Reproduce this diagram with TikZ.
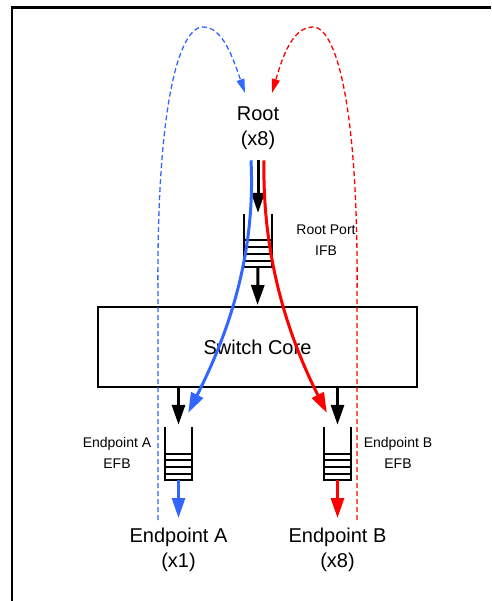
\documentclass[tikz,border=0pt]{standalone}
\usepackage{fontspec}
\setmainfont{Liberation Sans}
\usetikzlibrary{arrows.meta,calc}
\definecolor{pathblue}{RGB}{51,102,255}
\definecolor{pathred}{RGB}{255,0,0}

\begin{document}
\begin{tikzpicture}[x=1pt,y=-1pt,
		bigtxt/.style={inner sep=0pt,align=center,font=\fontsize{20}{25}\selectfont},
		smalltxt/.style={inner sep=0pt,align=center,font=\fontsize{14}{21}\selectfont},
		fifo/.style={minimum width=27pt,minimum height=53pt,inner sep=0pt},
		fwd/.style={line width=3pt,-{Triangle[length=20pt,width=13pt]}},
		loopback/.style={line width=1.3pt,dash pattern=on 5pt off 3pt,-{Triangle[length=14pt,width=8pt]}}]
	\useasboundingbox (0,0) rectangle (491,601);
	% frame (only top and left edge visible)
	\draw[line width=2.2pt] (12,601) -- (12,7.5) -- (491,7.5);
	% nodes
	\node[bigtxt,anchor=north] (root) at (258,107) {Root\\(x8)};
	\node[fifo] (rpq) at (258,240.5) {};
	\node[smalltxt] (rplbl) at (326,240) {Root Port\\IFB};
	\node[draw,line width=2pt,minimum width=319pt,minimum height=80pt,inner sep=0pt,
		font=\fontsize{20}{25}\selectfont] (core) at (257.5,347) {Switch Core};
	\node[fifo] (eaq) at (178.5,453.5) {};
	\node[fifo] (ebq) at (337.5,453.5) {};
	\node[smalltxt] (ealbl) at (117,452.5) {Endpoint A\\EFB};
	\node[smalltxt] (eblbl) at (398,452.5) {Endpoint B\\EFB};
	\node[bigtxt,anchor=north] (epa) at (178.5,528) {Endpoint A\\(x1)};
	\node[bigtxt,anchor=north] (epb) at (337.5,528) {Endpoint B\\(x8)};
	% queues
	\foreach \q in {rpq,eaq,ebq}{
		\draw[line width=2pt] (\q.north west) -- (\q.south west) -- (\q.south east) -- (\q.north east);
		\foreach \f in {0.5,0.625,0.75,0.875}
			\draw[line width=2pt] ($(\q.north west)!\f!(\q.south west)$) -- ($(\q.north east)!\f!(\q.south east)$);
	}
	% black data path
	\draw[fwd,shorten <=10pt,shorten >=1pt] (root.south) -- (rpq.north);
	\draw[fwd,shorten >=1pt] (rpq.south) -- (core.north);
	\draw[fwd,shorten >=2pt] (core.south -| eaq.north) -- (eaq.north);
	\draw[fwd,shorten >=2pt] (core.south -| ebq.north) -- (ebq.north);
	% flows to the endpoints
	\draw[fwd,pathblue] ($(root.south)+(-7,10)$) .. controls (256,260) and (225,340) .. ($(eaq.north east)+(-4,-14)$);
	\draw[fwd,pathred] ($(root.south)+(6,10)$) .. controls (262,260) and (290,340) .. ($(ebq.north west)+(3,-14)$);
	\draw[fwd,pathblue,shorten >=10pt] (eaq.south) -- (epa.north);
	\draw[fwd,pathred,shorten >=10pt] (ebq.south) -- (epb.north);
	% returns to the root
	\coordinate (aret) at (158,520);
	\coordinate (bret) at (357,520);
	\coordinate (aroot) at (245,93);
	\coordinate (broot) at (272,93);
	\draw[loopback,pathblue] (aret) -- (158,300) .. controls (156,100) and (180,27) .. (203,27)
		.. controls (222,27) and (232,55) .. (aroot);
	\draw[loopback,pathred] (bret) -- (357,300) .. controls (359,100) and (335,27) .. (313,27)
		.. controls (293,27) and (283,55) .. (broot);
\end{tikzpicture}
\end{document}
